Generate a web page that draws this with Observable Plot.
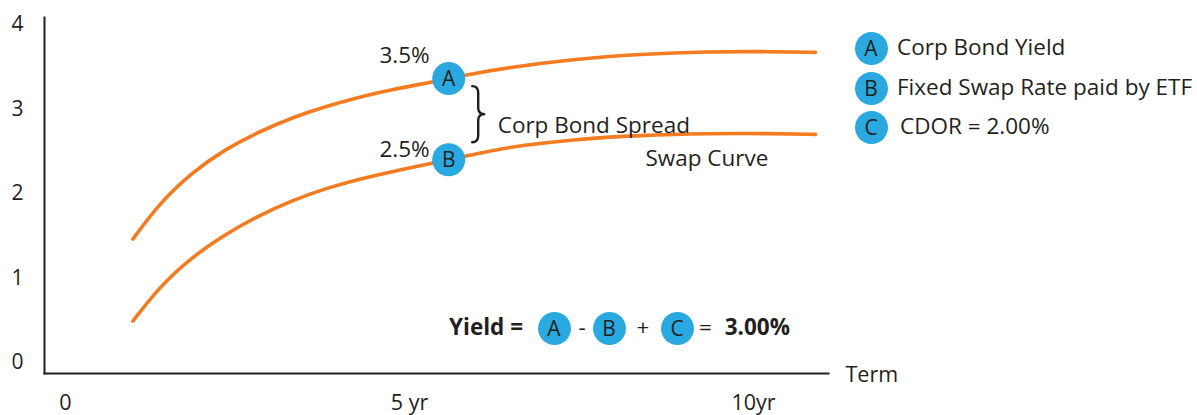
<!DOCTYPE html>
<html>
<head>
<meta charset="utf-8">
<script src="https://cdn.jsdelivr.net/npm/d3@7"></script>
<script src="https://cdn.jsdelivr.net/npm/@observablehq/plot@0.6"></script>
<style>
  html, body { margin: 0; padding: 0; background: #fff; }
  #wrap { position: relative; width: 1197px; height: 415px; font-family: 'Open Sans', sans-serif; color: #231F20; overflow: hidden; }
  #wrap svg { position: absolute; left: 0; top: 0; }
  .bubble { position: absolute; width: 33px; height: 33px; border-radius: 50%; background: #29A9E0; color: #231F20;
            font-size: 21px; line-height: 33px; text-align: center; }
  .ltxt { position: absolute; font-size: 22.5px; line-height: 26px; white-space: nowrap; }
  .ftxt { position: absolute; font-size: 22.5px; line-height: 26px; white-space: nowrap; }
</style>
</head>
<body>
<div id="wrap"></div>
<script>
// ---- data ----
const terms     = [0.98, 1.36, 1.84, 2.33, 2.81, 3.30, 3.78, 4.26, 4.75, 5.33, 5.57, 5.81, 6.42, 7.38, 8.36, 9.33, 10.29, 10.90];
const corpYield = [1.46, 1.88, 2.25, 2.53, 2.73, 2.90, 3.03, 3.14, 3.23, 3.32, 3.36, 3.40, 3.49, 3.59, 3.65, 3.68, 3.68, 3.67];
const swapRate  = [0.49, 0.89, 1.25, 1.52, 1.74, 1.92, 2.06, 2.17, 2.26, 2.36, 2.40, 2.44, 2.55, 2.64, 2.69, 2.71, 2.71, 2.70];

const markerLetters = ["A", "B"];
const markerTerms   = [5.57, 5.57];
const markerValues  = [3.36, 2.40];
const markerTexts   = ["3.5%", "2.5%"];

const yTicks = [0, 1, 2, 3, 4];
const xTicks = [0, 5, 10];
const xTickLabels = ["0", "5 yr", "10yr"];

const legendLetters = ["A", "B", "C"];
const legendTexts = ["Corp Bond Yield", "Fixed Swap Rate paid by ETF", "CDOR = 2.00%"];

const swapLabelTerm = 8.43, swapLabelValue = 2.70;

// ---- build tables ----
const corpRows = terms.map((t, i) => ({term: t, value: corpYield[i]}));
const swapRows = terms.map((t, i) => ({term: t, value: swapRate[i]}));
const markers = markerLetters.map((l, i) => ({letter: l, term: markerTerms[i], value: markerValues[i], text: markerTexts[i]}));

const ORANGE = "#F47B20", BLUE = "#29A9E0", INK = "#231F20";

// brace between A and B, placed through the scales
function brace(index, scales) {
  const xs = scales.x, ys = scales.y;
  const xt = xs(markerTerms[0]) + 24;
  const y1 = ys(markerValues[0]) + 8;
  const y2 = ys(markerValues[1]) - 17;
  const ym = (y1 + y2) / 2;
  const xc = xt + 6, xp = xt + 13;
  const d = `M${xt},${y1} Q${xc},${y1} ${xc},${y1 + 7} L${xc},${ym - 6} Q${xc},${ym} ${xp},${ym} Q${xc},${ym} ${xc},${ym + 6} L${xc},${y2 - 7} Q${xc},${y2} ${xt},${y2}`;
  const path = document.createElementNS("http://www.w3.org/2000/svg", "path");
  path.setAttribute("d", d);
  path.setAttribute("fill", "none");
  path.setAttribute("stroke", INK);
  path.setAttribute("stroke-width", "2.4");
  path.setAttribute("stroke-linecap", "round");
  const g = document.createElementNS("http://www.w3.org/2000/svg", "g");
  g.appendChild(path);
  return g;
}

const chart = Plot.plot({
  width: 1197,
  height: 415,
  marginLeft: 44,
  marginRight: 369,
  marginTop: 17,
  marginBottom: 42,
  x: {domain: [-0.305, 11.09]},
  y: {domain: [-0.13, 4.083]},
  style: {fontFamily: "'Open Sans', sans-serif", fontSize: "21px", color: INK, background: "transparent"},
  marks: [
    Plot.frame({anchor: "left", stroke: INK, strokeWidth: 2}),
    Plot.frame({anchor: "bottom", stroke: INK, strokeWidth: 2}),
    Plot.axisY({ticks: yTicks, tickSize: 0, tickPadding: 27, textAnchor: "middle", fontSize: 21, label: null, fill: INK,
                tickFormat: d => String(d)}),
    Plot.axisX({ticks: xTicks, tickSize: 0, tickPadding: 21, fontSize: 21.5, label: null, fill: INK,
                tickFormat: d => xTickLabels[xTicks.indexOf(d)]}),
    Plot.text(["Term"], {frameAnchor: "bottom-right", dx: 17, dy: 2, textAnchor: "start", lineAnchor: "middle", fontSize: 21.5, fill: INK}),
    Plot.line(corpRows, {x: "term", y: "value", stroke: ORANGE, strokeWidth: 3.6, curve: "basis"}),
    Plot.line(swapRows, {x: "term", y: "value", stroke: ORANGE, strokeWidth: 3.6, curve: "basis"}),
    brace,
    Plot.dot(markers, {x: "term", y: "value", r: 16.5, fill: BLUE}),
    Plot.text(markers, {x: "term", y: "value", text: "letter", fontSize: 21, fill: INK, dy: 1}),
    Plot.text(markers.slice(0, 1), {x: "term", y: "value", text: "text", dx: -19, dy: -23, textAnchor: "end", fontSize: 22.5, fill: INK}),
    Plot.text(markers.slice(1, 2), {x: "term", y: "value", text: "text", dx: -19, dy: -10, textAnchor: "end", fontSize: 22.5, fill: INK}),
    Plot.text(["Corp Bond Spread"], {x: () => markerTerms[0], y: () => (markerValues[0] + markerValues[1]) / 2,
              dx: 49, dy: 7, textAnchor: "start", fontSize: 22.5, fill: INK}),
    Plot.text(["Swap Curve"], {x: () => swapLabelTerm, y: () => swapLabelValue, dy: 24, textAnchor: "start", fontSize: 22.5, fill: INK})
  ]
});

const wrap = document.getElementById("wrap");
wrap.appendChild(chart);

// legend (HTML, right of the chart)
const legendTop = [48, 88, 127];
legendLetters.forEach((l, i) => {
  const b = document.createElement("div");
  b.className = "bubble";
  b.textContent = l;
  b.style.left = (871 - 16.5) + "px";
  b.style.top = (legendTop[i] - 16.5) + "px";
  wrap.appendChild(b);
  const t = document.createElement("div");
  t.className = "ltxt";
  t.textContent = legendTexts[i];
  t.style.left = (i === 2 ? 900 : 897) + "px";
  t.style.top = (legendTop[i] - 14) + "px";
  wrap.appendChild(t);
});

// formula: Yield = A - B + C = 3.00%
const fy = 328;
function addText(txt, x, anchor, bold) {
  const s = document.createElement("div");
  s.className = "ftxt";
  s.textContent = txt;
  if (bold) s.style.fontWeight = "700";
  s.style.top = (fy - 14) + "px";
  wrap.appendChild(s);
  const w = s.getBoundingClientRect().width;
  s.style.left = (anchor === "end" ? x - w : anchor === "middle" ? x - w / 2 : x) + "px";
}
function addBubble(l, cx) {
  const b = document.createElement("div");
  b.className = "bubble";
  b.textContent = l;
  b.style.left = (cx - 16.5) + "px";
  b.style.top = (fy - 16.5) + "px";
  wrap.appendChild(b);
}
addText("Yield =", 523, "end", true);
addBubble("A", 554);
addText("-", 582, "middle", false);
addBubble("B", 609);
addText("+", 643, "middle", false);
addBubble("C", 677);
addText("=", 699, "start", false);
addText("3.00%", 790, "end", true);
</script>
</body>
</html>
